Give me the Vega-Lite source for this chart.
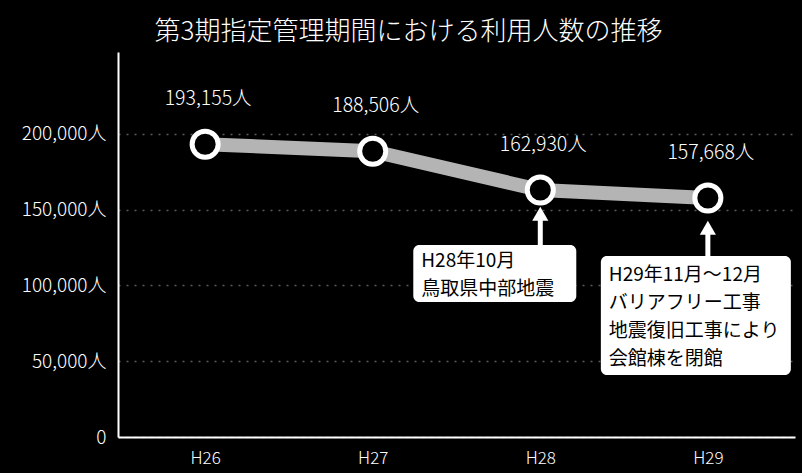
{
  "$schema": "https://vega.github.io/schema/vega-lite/v6.json",
  "width": 677,
  "height": 385,
  "autosize": {"type": "none"},
  "padding": {"left": 118, "top": 52, "right": 7, "bottom": 36},
  "background": "#000000",
  "title": {
    "text": "第3期指定管理期間における利用人数の推移",
    "font": "Noto Sans CJK JP",
    "fontSize": 26,
    "fontWeight": 300,
    "color": "#ffffff",
    "anchor": "middle",
    "dx": -48,
    "offset": 7
  },
  "config": {
    "view": {"stroke": null},
    "font": "Noto Sans CJK JP"
  },
  "datasets": {
    "main": [
      {"year": "H26", "users": 193155, "label": "193,155人"},
      {"year": "H27", "users": 188506, "label": "188,506人"},
      {"year": "H28", "users": 162930, "label": "162,930人"},
      {"year": "H29", "users": 157668, "label": "157,668人"}
    ]
  },
  "layer": [
    {
      "data": {"name": "main"},
      "mark": {"type": "line", "color": "#b4b4b4", "strokeWidth": 14},
      "encoding": {
        "x": {
          "field": "year", "type": "ordinal",
          "scale": {"type": "point", "padding": 0.52},
          "axis": {
            "title": null, "labelAngle": 0, "labelColor": "#ffffff", "labelFontSize": 17,
            "labelFontWeight": 300,
            "labelPadding": 13, "ticks": false, "domainColor": "#ffffff", "domainWidth": 2,
            "grid": false
          }
        },
        "y": {
          "field": "users", "type": "quantitative",
          "scale": {"domain": [0, 254000], "nice": false},
          "axis": {
            "title": null, "values": [0, 50000, 100000, 150000, 200000],
            "labelExpr": "datum.value == 0 ? '0' : format(datum.value, ',') + '人'",
            "labelColor": "#ffffff", "labelFontSize": 19, "labelFontWeight": 300, "labelPadding": 12,
            "ticks": false, "domainColor": "#ffffff", "domainWidth": 2,
            "grid": true, "gridColor": "#5a5a5a", "gridDash": [2, 6], "gridWidth": 1.5
          }
        }
      }
    },
    {
      "data": {"name": "main"},
      "mark": {"type": "point", "shape": "circle", "filled": false, "fill": "#000000", "fillOpacity": 1, "stroke": "#ffffff", "strokeWidth": 5, "size": 680, "opacity": 1},
      "encoding": {
        "x": {"field": "year", "type": "ordinal"},
        "y": {"field": "users", "type": "quantitative"}
      }
    },
    {
      "data": {"name": "main"},
      "mark": {"type": "text", "color": "#ffffff", "fontSize": 19.5, "fontWeight": 300, "dy": -45, "dx": 3, "baseline": "middle"},
      "encoding": {
        "x": {"field": "year", "type": "ordinal"},
        "y": {"field": "users", "type": "quantitative"},
        "text": {"field": "label"}
      }
    },
    {
      "data": {"values": [{"year": "H28"}]},
      "mark": {"type": "rule", "color": "#ffffff", "strokeWidth": 5},
      "encoding": {
        "x": {"field": "year", "type": "ordinal"},
        "y": {"datum": 126660},
        "y2": {"datum": 146000}
      }
    },
    {
      "data": {"values": [{"year": "H28"}]},
      "mark": {"type": "point", "shape": "triangle-up", "filled": true, "color": "#ffffff", "size": 260, "opacity": 1},
      "encoding": {
        "x": {"field": "year", "type": "ordinal"},
        "y": {"datum": 147300}
      }
    },
    {
      "data": {"values": [{"year": "H29"}]},
      "mark": {"type": "rule", "color": "#ffffff", "strokeWidth": 5},
      "encoding": {
        "x": {"field": "year", "type": "ordinal"},
        "y": {"datum": 119400},
        "y2": {"datum": 137000}
      }
    },
    {
      "data": {"values": [{"year": "H29"}]},
      "mark": {"type": "point", "shape": "triangle-up", "filled": true, "color": "#ffffff", "size": 260, "opacity": 1},
      "encoding": {
        "x": {"field": "year", "type": "ordinal"},
        "y": {"datum": 138000}
      }
    },
    {
      "data": {"values": [{"year": "H28", "note": ["H28年10月", "鳥取県中部地震"]}]},
      "mark": {"type": "rect", "color": "#ffffff", "width": 163, "height": 57, "cornerRadius": 6, "xOffset": -45.5},
      "encoding": {
        "x": {"field": "year", "type": "ordinal"},
        "y": {"datum": 107860}
      }
    },
    {
      "data": {"values": [{"year": "H28", "note": ["H28年10月", "鳥取県中部地震"]}]},
      "mark": {"type": "text", "color": "#000000", "fontSize": 19, "fontWeight": "normal", "align": "left", "baseline": "middle", "lineHeight": 28, "dx": -119, "dy": -13},
      "encoding": {
        "x": {"field": "year", "type": "ordinal"},
        "y": {"datum": 107860},
        "text": {"field": "note"}
      }
    },
    {
      "data": {"values": [{"year": "H29", "note": ["H29年11月～12月", "バリアフリー工事", "地震復旧工事により", "会館棟を閉館"]}]},
      "mark": {"type": "rect", "color": "#ffffff", "width": 190, "height": 119, "cornerRadius": 6, "xOffset": -12},
      "encoding": {
        "x": {"field": "year", "type": "ordinal"},
        "y": {"datum": 80150}
      }
    },
    {
      "data": {"values": [{"year": "H29", "note": ["H29年11月～12月", "バリアフリー工事", "地震復旧工事により", "会館棟を閉館"]}]},
      "mark": {"type": "text", "color": "#000000", "fontSize": 19, "fontWeight": "normal", "align": "left", "baseline": "middle", "lineHeight": 28, "dx": -99, "dy": -41},
      "encoding": {
        "x": {"field": "year", "type": "ordinal"},
        "y": {"datum": 80150},
        "text": {"field": "note"}
      }
    }
  ]
}
